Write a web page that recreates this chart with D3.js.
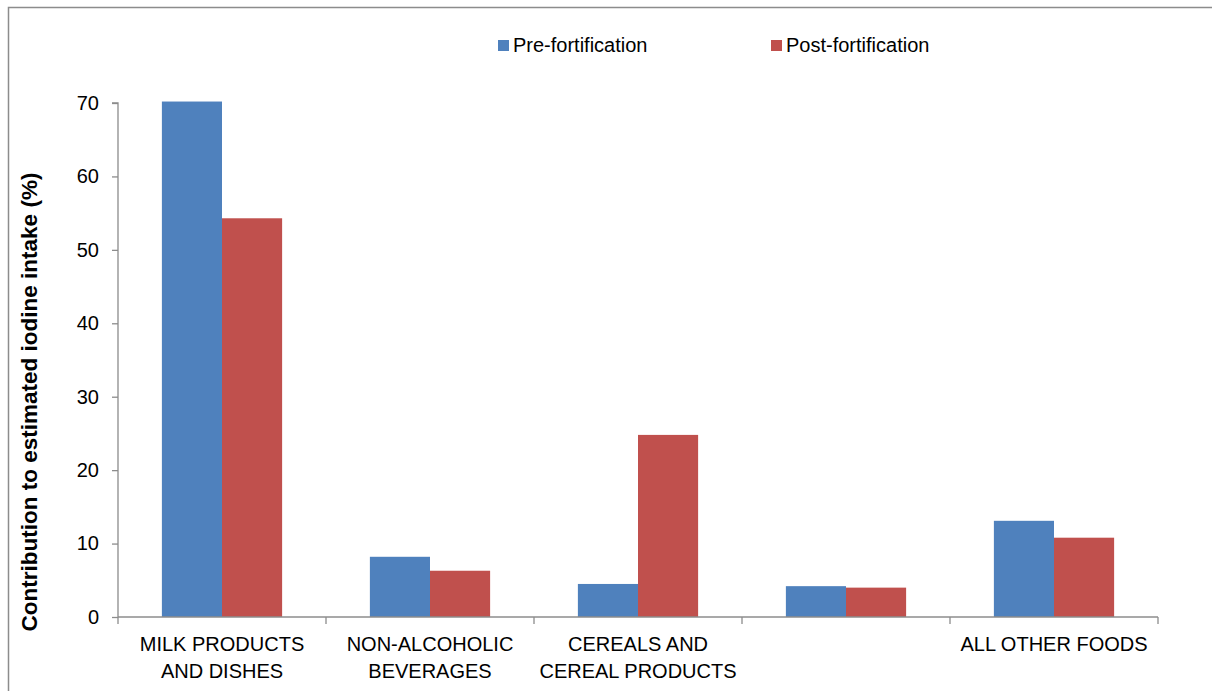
<!DOCTYPE html>
<html>
<head>
<meta charset="utf-8">
<script src="https://cdn.jsdelivr.net/npm/d3@7"></script>
<style>
  html, body { margin: 0; padding: 0; background: #fff; }
  svg { display: block; font-family: "Liberation Sans", Arial, sans-serif; }
</style>
</head>
<body>
<div id="chart"></div>
<script>
// data
const categories = [
  ["MILK PRODUCTS", "AND DISHES"],
  ["NON-ALCOHOLIC", "BEVERAGES"],
  ["CEREALS AND", "CEREAL PRODUCTS"],
  [""],
  ["ALL OTHER FOODS"]
];
const seriesNames = ["Pre-fortification", "Post-fortification"];
const preValues = [70.2, 8.2, 4.5, 4.2, 13.1];
const postValues = [54.3, 6.3, 24.8, 4.0, 10.8];
const yTicks = [0, 10, 20, 30, 40, 50, 60, 70];
const colors = ["#4F81BD", "#C0504D"];

const width = 1212, height = 691;
const margin = { left: 118, right: 54, top: 103, bottom: 74 };

const svg = d3.select("#chart").append("svg")
  .attr("width", width)
  .attr("height", height);

// outer chart frame
svg.append("rect")
  .attr("x", 8.5).attr("y", 7.5)
  .attr("width", width).attr("height", height)
  .attr("fill", "none")
  .attr("stroke", "#8c8c8c")
  .attr("stroke-width", 1.5);

const x = d3.scaleBand()
  .domain(d3.range(categories.length))
  .range([margin.left, width - margin.right]);

const inner = d3.scaleBand()
  .domain([0, 1])
  .range([0, x.bandwidth()])
  .paddingInner(0)
  .paddingOuter(0.73);

const y = d3.scaleLinear()
  .domain([0, 70])
  .range([height - margin.bottom, margin.top]);

const rows = categories.map((c, i) => ({ i, vals: [preValues[i], postValues[i]] }));

// bars
const groups = svg.append("g").selectAll("g")
  .data(rows)
  .join("g")
  .attr("transform", d => `translate(${x(d.i)},0)`);

groups.selectAll("rect")
  .data(d => d.vals.map((v, s) => ({ v, s })))
  .join("rect")
  .attr("x", d => inner(d.s))
  .attr("y", d => y(d.v))
  .attr("width", inner.bandwidth())
  .attr("height", d => y(0) - y(d.v))
  .attr("fill", d => colors[d.s]);

// y axis
const yAxis = svg.append("g")
  .attr("transform", `translate(${margin.left},0)`)
  .call(d3.axisLeft(y).tickValues(yTicks).tickSize(6).tickPadding(13));
yAxis.selectAll("path, line").attr("stroke", "#8c8c8c").attr("stroke-width", 1.3);
yAxis.select(".domain").attr("d", `M-6,${y(70)}H0V${y(0)}`);
yAxis.selectAll("text").attr("font-size", 20).attr("fill", "#000")
  .attr("font-family", "Liberation Sans, Arial, sans-serif");

// x axis: line with ticks at the category borders
const xg = svg.append("g");
xg.append("line")
  .attr("x1", margin.left).attr("x2", width - margin.right)
  .attr("y1", y(0)).attr("y2", y(0))
  .attr("stroke", "#8c8c8c").attr("stroke-width", 1.3);
const borders = d3.range(categories.length + 1).map(i =>
  i < categories.length ? x(i) : x(i - 1) + x.bandwidth());
xg.selectAll(".xt")
  .data(borders)
  .join("line")
  .attr("x1", d => d).attr("x2", d => d)
  .attr("y1", y(0)).attr("y2", y(0) + 7)
  .attr("stroke", "#8c8c8c").attr("stroke-width", 1.3);

xg.selectAll(".xl")
  .data(categories.map((c, i) => ({ c, i })))
  .join("text")
  .attr("text-anchor", "middle")
  .attr("font-size", 20)
  .attr("fill", "#000")
  .attr("x", d => x(d.i) + x.bandwidth() / 2)
  .attr("y", y(0) + 34)
  .selectAll("tspan")
  .data(d => d.c)
  .join("tspan")
  .attr("x", function () { return d3.select(this.parentNode).attr("x"); })
  .attr("dy", (d, k) => k === 0 ? 0 : 27)
  .text(d => d);

// y axis title
svg.append("text")
  .attr("transform", `translate(37,402) rotate(-90)`)
  .attr("text-anchor", "middle")
  .attr("font-size", 22.5)
  .attr("font-weight", "bold")
  .attr("fill", "#000")
  .text("Contribution to estimated iodine intake (%)");

// legend
const legendX = [498, 771];
const legend = svg.append("g").selectAll("g")
  .data(seriesNames)
  .join("g")
  .attr("transform", (d, i) => `translate(${legendX[i]},40)`);
legend.append("rect")
  .attr("width", 11).attr("height", 11)
  .attr("fill", (d, i) => colors[i]);
legend.append("text")
  .attr("x", 15).attr("y", 12)
  .attr("font-size", 20)
  .attr("fill", "#000")
  .text(d => d);
</script>
</body>
</html>
